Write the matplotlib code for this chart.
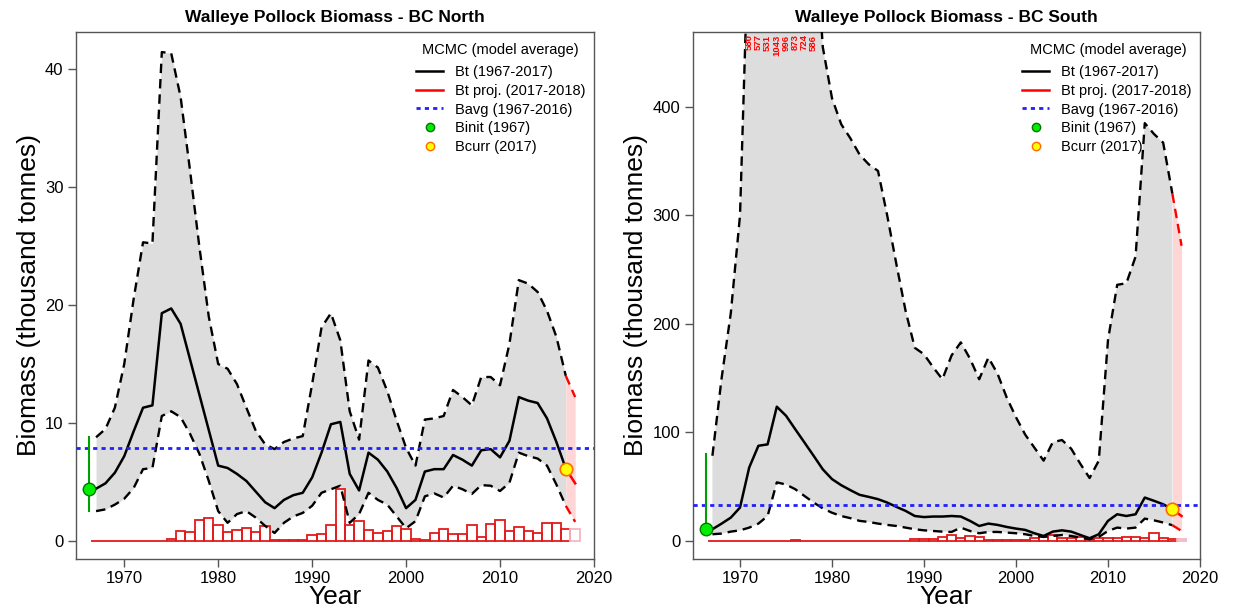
import numpy as np
import matplotlib
matplotlib.use("Agg")
import matplotlib.pyplot as plt
from matplotlib.lines import Line2D
import matplotlib.transforms as mtrans

plt.rcParams['font.family'] = ['Liberation Sans', 'DejaVu Sans']

years = np.arange(1967, 2018)
proj_years = [2017, 2018]
catch_years = np.arange(1967, 2019)

# BC North (thousand tonnes)
north_med = [4.45, 4.9, 5.8, 7.2, 9.3, 11.3, 11.5, 19.3, 19.7, 18.4,
             15.4, 12.4, 9.4, 6.4, 6.2, 5.7, 5.1, 4.2, 3.3, 2.8,
             3.5, 3.9, 4.1, 5.4, 7.5, 9.9, 10.1, 5.7, 4.3, 7.5,
             6.9, 5.9, 4.5, 2.8, 3.5, 5.9, 6.1, 6.1, 7.3, 6.9,
             6.4, 7.7, 7.8, 7.1, 8.5, 12.2, 11.9, 11.7, 10.4, 8.4, 6.15]
north_up = [8.8, 9.5, 11.3, 15.0, 20.5, 25.3, 25.2, 41.4, 41.3, 37.6,
            31.4, 24.9, 19.0, 15.0, 14.6, 13.3, 11.3, 9.35, 8.2, 7.8,
            8.4, 8.7, 8.9, 13.3, 18.1, 19.3, 17.0, 11.0, 8.6, 15.3,
            14.7, 12.7, 10.2, 7.9, 6.4, 10.3, 10.4, 10.6, 12.8, 12.2,
            11.5, 13.9, 13.9, 13.2, 16.7, 22.1, 21.8, 21.1, 19.5, 17.3, 14.0]
north_lo = [2.55, 2.7, 3.1, 3.6, 4.5, 6.1, 6.2, 10.6, 11.0, 10.5,
            9.1, 7.4, 5.1, 2.55, 1.56, 2.3, 2.55, 2.0, 1.3, 0.7,
            1.56, 2.1, 2.4, 3.0, 4.1, 4.4, 4.7, 1.56, 2.3, 4.1,
            3.5, 3.1, 2.1, 1.1, 1.7, 3.8, 4.05, 3.7, 4.7, 4.4,
            4.0, 4.75, 4.7, 4.25, 4.95, 7.5, 7.2, 7.0, 6.4, 4.8, 3.0]
north_proj_med = [6.15, 4.9]
north_proj_up = [14.0, 12.2]
north_proj_lo = [3.0, 1.64]
north_binit = [4.45, 2.55, 8.8]
north_bcurr = 6.15
north_bavg = 7.85
north_catch = [0.05, 0.05, 0.05, 0.05, 0.05, 0.05, 0.05, 0.05, 0.15, 0.9,
               0.8, 1.8, 2.0, 1.35, 0.8, 0.95, 1.15, 0.8, 1.25, 0.1,
               0.1, 0.1, 0.1, 0.5, 0.65, 1.35, 4.45, 1.35, 1.7, 0.95,
               0.7, 0.9, 1.25, 1.0, 0.15, 0.1, 0.7, 1.05, 0.6, 0.6,
               1.35, 0.4, 1.5, 1.8, 0.9, 1.2, 0.9, 0.7, 1.55, 1.55,
               1.05, 1.05]

# BC South (thousand tonnes)
south_med = [10.8, 16, 21.5, 30.8, 67.7, 87.7, 89, 123.7, 115.4, 103,
             90.8, 78.5, 66, 57, 51.4, 46.8, 42.5, 40.6, 38.5, 35.4,
             31.4, 27.7, 23, 22, 22.5, 22.5, 23, 22.5, 18.5, 13.8,
             16, 14.8, 12.9, 11.4, 10.2, 7.1, 4.6, 8.6, 9.8, 8.6,
             5.5, 2.5, 6.2, 18.5, 24.6, 23, 24.6, 40, 37, 33.8, 29.2]
south_up = [78.5, 150, 210, 300, 580, 577, 531, 1043, 996, 873,
            724, 586, 455, 408, 384, 371, 356, 347, 341, 300,
            255, 212, 178, 172, 160, 149, 171, 183, 168, 149,
            169, 154, 132, 114, 98, 86, 74, 91, 93, 85,
            71, 58, 74, 185, 236, 237.5, 262, 385, 375, 367, 320]
south_lo = [6.2, 6.8, 8.6, 9.8, 12.3, 16, 23, 54, 52, 47.7,
            41.5, 35.4, 30, 26, 23, 21, 18.5, 17.5, 16, 14.8,
            13.8, 12.3, 10.8, 9.8, 9.2, 8.6, 8.3, 12.3, 9.2, 7.1,
            8.3, 8.3, 7.7, 7.1, 6.2, 4.6, 3.7, 4.6, 5.5, 4.6,
            3.1, 1.5, 3.7, 9.2, 12.3, 11.4, 12.3, 20.6, 19, 17, 14.5]
south_proj_med = [29.2, 23]
south_proj_up = [320, 272]
south_proj_lo = [14.5, 9.2]
south_binit = [11, 6, 80]
south_bcurr = 29
south_bavg = 33.2
south_catch = [0.2, 0.2, 0.2, 0.2, 0.2, 0.2, 0.2, 0.2, 0.3, 0.6,
               0.4, 0.4, 0.3, 0.3, 0.3, 0.3, 0.3, 0.3, 0.3, 0.3,
               0.3, 0.3, 1.5, 1.5, 1.5, 4.0, 5.5, 3.0, 4.5, 4.0,
               1.0, 1.0, 1.0, 1.0, 1.0, 3.0, 4.5, 5.5, 2.5, 2.5,
               4.0, 2.5, 2.5, 2.5, 2.5, 4.0, 4.0, 2.5, 7.0, 2.5,
               2.0, 2.0]

GREY = '#DDDDDD'
PINK = '#FFD6D6'
FRAME = '#555555'


def draw_panel(ax, title, med, up, lo, pmed, pup, plo, binit, bcurr, bavg,
               catch, ylim, yticks):
    ax.fill_between(years, lo, up, color=GREY, lw=0, zorder=1)
    ax.fill_between(proj_years, plo, pup, color=PINK, lw=0, zorder=1)

    # catch bars
    n_hist = len(years)
    ax.bar(catch_years[:n_hist], catch[:n_hist], width=1.0, fill=False,
           edgecolor='#E31A1C', lw=1.3, zorder=2)
    ax.bar(catch_years[n_hist:], catch[n_hist:], width=1.0, fill=False,
           edgecolor='#F5B5C5', lw=1.3, zorder=2)

    dash = (0, (4, 2.5))
    ax.plot(years, up, color='black', ls=dash, lw=1.7, zorder=3)
    ax.plot(years, lo, color='black', ls=dash, lw=1.7, zorder=3)
    ax.plot(proj_years, pup, color='red', ls=dash, lw=1.7, zorder=3)
    ax.plot(proj_years, plo, color='red', ls=dash, lw=1.7, zorder=3)
    ax.plot(years, med, color='black', lw=1.8, zorder=4)
    ax.plot(proj_years, pmed, color='red', lw=1.8, zorder=4)

    ax.axhline(bavg, color='#2020FF', ls=(0, (1.5, 1.5)), lw=2, zorder=4)

    bx = years[0] - 0.75
    ax.plot([bx, bx], binit[1:], color='#00A000', lw=1.5, zorder=5)
    ax.plot(bx, binit[0], 'o', ms=9, mfc='#00EE00', mec='#007700', mew=1, zorder=6)
    ax.plot(proj_years[0], bcurr, 'o', ms=9, mfc='#FFFF00', mec='#FF6A00', mew=1.2, zorder=6)

    # values above the plot top
    trans = mtrans.blended_transform_factory(ax.transData, ax.transAxes)
    for yr, v in zip(years, up):
        if v > ylim[1]:
            ax.text(yr, 0.995, str(int(round(v))), rotation=90, ha='center', va='top',
                    color='red', fontsize=6.8, fontweight='bold', transform=trans,
                    zorder=7, linespacing=0.9)

    ax.set_xlim(1964.86, 2020)
    ax.set_ylim(*ylim)
    ax.set_xticks(range(1970, 2021, 10))
    ax.set_yticks(yticks)
    ax.tick_params(direction='out', length=6, width=1, color=FRAME, labelsize=12, pad=3)
    for s in ax.spines.values():
        s.set_color(FRAME)
        s.set_linewidth(1)
    ax.set_title(title, fontsize=12.5, fontweight='bold', pad=7)
    ax.set_xlabel('Year', fontsize=19, labelpad=-1)
    ax.set_ylabel('Biomass (thousand tonnes)', fontsize=19, labelpad=3)

    handles = [
        Line2D([], [], color='black', lw=1.8),
        Line2D([], [], color='red', lw=1.8),
        Line2D([], [], color='#2020FF', lw=2, ls=(0, (1.5, 1.5))),
        Line2D([], [], ls='none', marker='o', ms=6, mfc='#00EE00', mec='#007700'),
        Line2D([], [], ls='none', marker='o', ms=6, mfc='#FFFF00', mec='#FF6A00'),
    ]
    labels = ['Bt (1967-2017)', 'Bt proj. (2017-2018)', 'Bavg (1967-2016)',
              'Binit (1967)', 'Bcurr (2017)']
    ax.text(0.82, 0.966, 'MCMC (model average)', transform=ax.transAxes,
            ha='center', va='center', fontsize=10.5)
    ax.legend(handles, labels, loc='upper right', bbox_to_anchor=(0.983, 0.937),
              frameon=False, fontsize=10.5, handlelength=1.85, handletextpad=0.8,
              labelspacing=0.32, borderaxespad=0, borderpad=0)


fig = plt.figure(figsize=(12.39, 6.15), dpi=100)
ax1 = fig.add_axes([0.0613, 0.0911, 0.4181, 0.8569])
ax2 = fig.add_axes([0.5591, 0.0911, 0.4094, 0.8569])

draw_panel(ax1, 'Walleye Pollock Biomass - BC North', north_med, north_up, north_lo,
           north_proj_med, north_proj_up, north_proj_lo, north_binit, north_bcurr,
           north_bavg, north_catch, (-1.5, 43.1), [0, 10, 20, 30, 40])
draw_panel(ax2, 'Walleye Pollock Biomass - BC South', south_med, south_up, south_lo,
           south_proj_med, south_proj_up, south_proj_lo, south_binit, south_bcurr,
           south_bavg, south_catch, (-16.6, 469), [0, 100, 200, 300, 400])

fig.savefig('out.png', dpi=100)
